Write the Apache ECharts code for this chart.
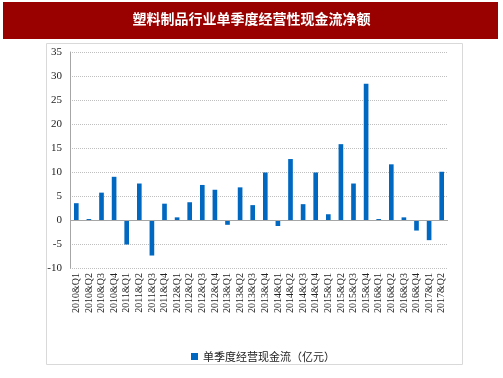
<!DOCTYPE html>
<html>
<head>
<meta charset="utf-8">
<script src="https://cdn.jsdelivr.net/npm/echarts@6/dist/echarts.min.js"></script>
<style>
  html, body { margin: 0; padding: 0; background: #fff; }
  #chart { width: 503px; height: 378px; }
</style>
</head>
<body>
<div id="chart"></div>
<script>
// quarters and values (亿元)
let quarters = [
  '2010&Q1', '2010&Q2', '2010&Q3', '2010&Q4',
  '2011&Q1', '2011&Q2', '2011&Q3', '2011&Q4',
  '2012&Q1', '2012&Q2', '2012&Q3', '2012&Q4',
  '2013&Q1', '2013&Q2', '2013&Q3', '2013&Q4',
  '2014&Q1', '2014&Q2', '2014&Q3', '2014&Q4',
  '2015&Q1', '2015&Q2', '2015&Q3', '2015&Q4',
  '2016&Q1', '2016&Q2', '2016&Q3', '2016&Q4',
  '2017&Q1', '2017&Q2'
];
let cashFlow = [
  3.5, 0.2, 5.7, 9.0,
  -5.1, 7.6, -7.4, 3.4,
  0.55, 3.7, 7.3, 6.3,
  -1.0, 6.8, 3.1, 9.9,
  -1.25, 12.7, 3.3, 9.9,
  1.2, 15.8, 7.6, 28.4,
  0.2, 11.6, 0.55, -2.2,
  -4.2, 10.05
];
let yTicks = { min: -10, max: 35, step: 5 };

let myChart = echarts.init(document.getElementById('chart'));

myChart.setOption({
  animation: false,
  graphic: [
    // red title bar
    {
      type: 'rect', left: 3, top: 2, z: 0,
      shape: { width: 495, height: 37 },
      style: { fill: '#990000' }
    },
    {
      type: 'text', left: 'center', top: 12, z: 1,
      style: {
        text: '塑料制品行业单季度经营性现金流净额',
        fill: '#fff', font: 'bold 14px "Noto Sans CJK SC"'
      }
    },
    // light frame round the chart
    {
      type: 'rect', left: 44, top: 41, z: 0,
      shape: { width: 416, height: 321 },
      style: { fill: 'none', stroke: '#d9d9d9', lineWidth: 1 }
    }
  ],
  grid: { left: 70, right: 55, top: 52, bottom: 110 },
  legend: {
    left: 186, top: 346,
    itemWidth: 7, itemHeight: 7, itemGap: 4,
    icon: 'rect',
    textStyle: { fontSize: 11, color: '#222', fontFamily: '"Noto Sans CJK SC"' },
    data: ['单季度经营现金流（亿元）']
  },
  xAxis: {
    type: 'category',
    data: quarters,
    axisLine: { show: false, onZero: false },
    axisTick: { show: false },
    axisLabel: {
      rotate: 90, interval: 0, margin: 5,
      fontSize: 10, color: '#222', fontFamily: '"Liberation Serif"'
    }
  },
  yAxis: {
    type: 'value',
    min: yTicks.min, max: yTicks.max, interval: yTicks.step,
    axisLine: { show: true, lineStyle: { color: '#a6a6a6' } },
    axisTick: { show: false },
    axisLabel: { fontSize: 11, color: '#222', margin: 8, fontFamily: '"Liberation Serif"' },
    splitLine: { lineStyle: { color: '#bfbfbf', type: 'dotted' } }
  },
  series: [{
    name: '单季度经营现金流（亿元）',
    type: 'bar',
    data: cashFlow,
    barWidth: '37%',
    itemStyle: { color: '#0068c0' },
    markLine: {
      silent: true, symbol: 'none', label: { show: false },
      lineStyle: { color: '#a6a6a6', type: 'solid', width: 1 },
      data: [{ yAxis: 0 }]
    }
  }]
});
</script>
</body>
</html>
